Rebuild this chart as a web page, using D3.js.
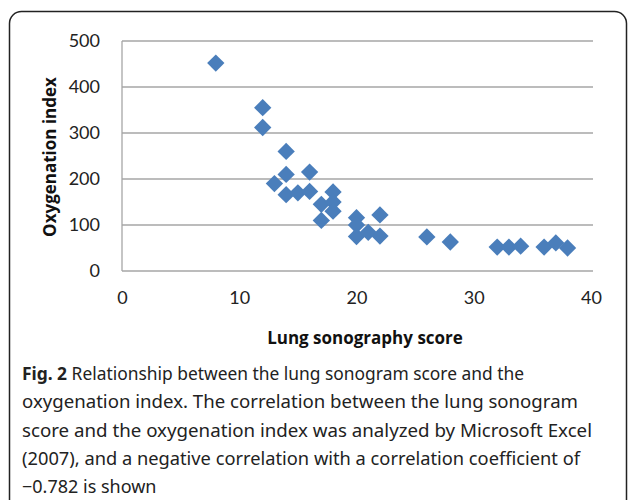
<!DOCTYPE html>
<html>
<head>
<meta charset="utf-8">
<script src="https://cdn.jsdelivr.net/npm/d3@7"></script>
<style>
  body { margin: 0; background: #fff; }
  svg { display: block; }
  .tick text { font-family: Lato, "Open Sans", sans-serif; font-size: 18px; fill: #222; }
  .axisTitle { font-family: "Open Sans", sans-serif; font-size: 17px; font-weight: bold; fill: #111; }
  .caption { font-family: "Noto Sans", sans-serif; font-size: 18px; fill: #222; }
</style>
</head>
<body>
<div id="chart"></div>
<script>
// lung sonography score (x) vs oxygenation index (y)
const scores = [8, 12, 12, 13, 14, 14, 14, 15, 16, 16, 17, 17, 18, 18, 18, 20, 20, 20, 21, 22, 22, 26, 28, 32, 33, 34, 36, 37, 38];
const oxIndex = [452, 355, 312, 190, 260, 210, 166, 170, 215, 173, 145, 110, 172, 150, 130, 116, 100, 75, 84, 122, 76, 74, 63, 52, 52, 54, 52, 61, 50];
const xTicks = [0, 10, 20, 30, 40];
const yTicks = [0, 100, 200, 300, 400, 500];
const xTitle = "Lung sonography score";
const yTitle = "Oxygenation index";
const captionLines = [
    ["Fig. 2", " Relationship between the lung sonogram score and the"],
    ["", "oxygenation index. The correlation between the lung sonogram"],
    ["", "score and the oxygenation index was analyzed by Microsoft Excel"],
    ["", "(2007), and a negative correlation with a correlation coefficient of"],
    ["", "\u22120.782 is shown"]
];
// measured line widths in the figure (px), null = natural
const captionWidths = [502, 556, 570, 558, null];

const W = 629, H = 500;
const plot = {left: 122, right: 591, top: 41, bottom: 271};

const svg = d3.select("#chart").append("svg")
    .attr("width", W)
    .attr("height", H);

// outer frame
svg.append("rect")
    .attr("x", 9.5).attr("y", 11.5)
    .attr("width", 617).attr("height", 500)
    .attr("rx", 12).attr("ry", 12)
    .attr("fill", "none")
    .attr("stroke", "#222")
    .attr("stroke-width", 1.5);

const x = d3.scaleLinear().domain([0, 40]).range([plot.left, plot.right]);
const y = d3.scaleLinear().domain([0, 500]).range([plot.bottom, plot.top]);

// gridlines
svg.append("g")
    .selectAll("line")
    .data(yTicks)
    .join("line")
    .attr("x1", plot.left).attr("x2", plot.right + 2)
    .attr("y1", d => y(d)).attr("y2", d => y(d))
    .attr("stroke", "#a6a6a6")
    .attr("stroke-width", 1.3);

svg.append("line")
    .attr("x1", plot.left).attr("x2", plot.left)
    .attr("y1", plot.top).attr("y2", plot.bottom)
    .attr("stroke", "#a6a6a6")
    .attr("stroke-width", 1.3);

// axes (labels only)
const yAxis = svg.append("g")
    .attr("transform", `translate(${plot.left},0)`)
    .call(d3.axisLeft(y).tickValues(yTicks).tickSize(0).tickPadding(22));
yAxis.select(".domain").remove();

const xAxis = svg.append("g")
    .attr("transform", `translate(0,${plot.bottom})`)
    .call(d3.axisBottom(x).tickValues(xTicks).tickSize(0).tickPadding(20));
xAxis.select(".domain").remove();

// axis titles
svg.append("text")
    .attr("class", "axisTitle")
    .attr("text-anchor", "middle")
    .attr("x", 365).attr("y", 344)
    .text(xTitle);

svg.append("text")
    .attr("class", "axisTitle")
    .attr("text-anchor", "middle")
    .attr("transform", "translate(56,157) rotate(-90)")
    .text(yTitle);

// diamond markers
const pts = scores.map((s, i) => ({x: s, y: oxIndex[i]}));
svg.append("g")
    .selectAll("path")
    .data(pts)
    .join("path")
    .attr("d", d3.symbol(d3.symbolSquare, 150))
    .attr("transform", d => `translate(${x(d.x)},${y(d.y)}) rotate(45)`)
    .attr("fill", "#4a7ebb");

// caption
const cap = svg.append("g");
captionLines.forEach((ln, i) => {
    const t = cap.append("text")
        .attr("class", "caption")
        .attr("x", 22)
        .attr("y", 380 + i * 28.3);
    if (captionWidths[i]) t.attr("textLength", captionWidths[i]).attr("lengthAdjust", "spacingAndGlyphs");
    if (ln[0]) t.append("tspan").attr("font-weight", "bold").text(ln[0]);
    t.append("tspan").text(ln[1]);
});
</script>
</body>
</html>
